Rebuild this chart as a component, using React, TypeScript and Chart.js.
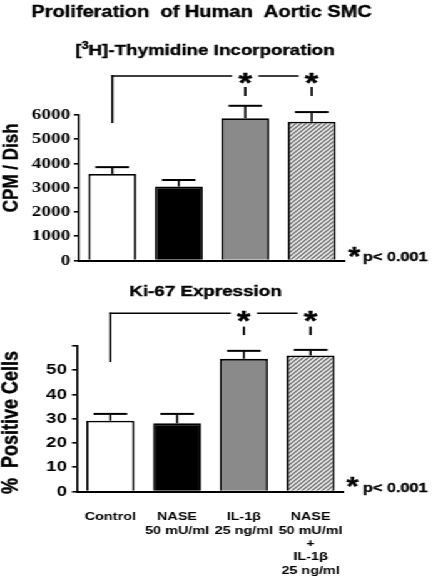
import React, { useEffect, useRef } from "react";
import { Chart, registerables } from "chart.js";

Chart.register(...registerables);

// ---------------- data ----------------
const categories: string[][] = [
  ["Control"],
  ["NASE", "50 mU/ml"],
  ["IL-1β", "25 ng/ml"],
  ["NASE", "50 mU/ml", "+", "IL-1β", "25 ng/ml"],
];
const thymidineMeans = [3570, 3050, 5870, 5720];
const thymidineErrors = [280, 270, 510, 400];
const thymidineTicks = [0, 1000, 2000, 3000, 4000, 5000, 6000];
const thymidineBracket = { level: 7610, drop: 5670, star: 7525, dashTop: 7155, dashBottom: 6785 };

const ki67Means = [29.2, 28.1, 54.7, 56.1];
const ki67Errors = [2.8, 3.9, 3.3, 2.3];
const ki67Ticks = [0, 10, 20, 30, 40, 50, 60];
const ki67Bracket = { level: 73.5, drop: 53.4, star: 72.1, dashTop: 68.0, dashBottom: 64.5 };

const mainTitle = "Proliferation  of Human  Aortic SMC";
const thymidineTitle = ["[", "3", "H]-Thymidine Incorporation"];
const ki67Title = "Ki-67 Expression";
const thymidineAxisTitle = "CPM / Dish";
const ki67AxisTitle = "%  Positive Cells";
const pValueNote = "p< 0.001";

// ---------------- layout helpers ----------------
const W = 346;
const S = 433 / W; // the original figure is stretched horizontally
const SANS = '"Liberation Sans", Arial, Helvetica, sans-serif';
const SERIF = '"Liberation Serif", "Times New Roman", serif';

function drawCentered(
  ctx: CanvasRenderingContext2D,
  text: string,
  xc: number,
  yc: number,
  font: string,
  rotate = 0
) {
  ctx.save();
  ctx.font = font;
  ctx.textAlign = "left";
  ctx.textBaseline = "alphabetic";
  const m = ctx.measureText(text);
  const w = m.actualBoundingBoxRight + m.actualBoundingBoxLeft;
  const dy = (m.actualBoundingBoxAscent - m.actualBoundingBoxDescent) / 2;
  ctx.translate(xc, yc);
  if (rotate) ctx.rotate(rotate);
  ctx.fillStyle = "#000";
  ctx.strokeStyle = "#000";
  ctx.lineWidth = 0.35;
  ctx.fillText(text, -w / 2 + m.actualBoundingBoxLeft, dy);
  ctx.strokeText(text, -w / 2 + m.actualBoundingBoxLeft, dy);
  ctx.restore();
}

function makeHatch(): CanvasPattern | string {
  const c = document.createElement("canvas");
  c.width = 4;
  c.height = 4;
  const g = c.getContext("2d");
  if (!g) return "#c8c8c8";
  g.fillStyle = "#f4f4f4";
  g.fillRect(0, 0, 4, 4);
  g.strokeStyle = "#6a6a6a";
  g.lineWidth = 1.3;
  g.beginPath();
  g.moveTo(0, 4);
  g.lineTo(4, 0);
  g.moveTo(-1, 1);
  g.lineTo(1, -1);
  g.moveTo(3, 5);
  g.lineTo(5, 3);
  g.stroke();
  return g.createPattern(c, "repeat") || "#c8c8c8";
}

type Bracket = { level: number; drop: number; star: number; dashTop: number; dashBottom: number };

function annotationPlugin(
  id: string,
  means: number[],
  errors: number[],
  bracket: Bracket,
  noteStar: { x: number; y: number; tx: number; ty: number },
  drawTitles: (ctx: CanvasRenderingContext2D) => void
) {
  return {
    id,
    afterDraw(chart: any) {
      const ctx: CanvasRenderingContext2D = chart.ctx;
      const ys = chart.scales.y;
      const bars = chart.getDatasetMeta(0).data;
      ctx.save();
      ctx.strokeStyle = "#000";
      ctx.lineCap = "butt";
      // error bars (upper only)
      bars.forEach((bar: any, i: number) => {
        const x = bar.x;
        const y0 = ys.getPixelForValue(means[i]);
        const y1 = ys.getPixelForValue(means[i] + errors[i]);
        const half = bar.width * 0.35;
        ctx.lineWidth = 1.6;
        ctx.beginPath();
        ctx.moveTo(x, y0);
        ctx.lineTo(x, y1);
        ctx.stroke();
        ctx.lineWidth = 2;
        ctx.beginPath();
        ctx.moveTo(x - half, y1);
        ctx.lineTo(x + half, y1);
        ctx.stroke();
      });
      // significance bracket
      const xc = bars[0].x;
      const x2 = bars[2].x;
      const x3 = bars[3].x;
      const gap = 10.5;
      const yl = ys.getPixelForValue(bracket.level);
      const yd = ys.getPixelForValue(bracket.drop);
      ctx.lineWidth = 1.6;
      ctx.beginPath();
      ctx.moveTo(xc, yd);
      ctx.lineTo(xc, yl - 0.8);
      ctx.stroke();
      ctx.lineWidth = 1.6;
      ctx.beginPath();
      ctx.moveTo(xc - 0.8, yl);
      ctx.lineTo(x2 - gap, yl);
      ctx.moveTo(x2 + gap, yl);
      ctx.lineTo(x3 - gap, yl);
      ctx.stroke();
      const ys1 = ys.getPixelForValue(bracket.star);
      const dt = ys.getPixelForValue(bracket.dashTop);
      const db = ys.getPixelForValue(bracket.dashBottom);
      [x2, x3].forEach((x) => {
        drawCentered(ctx, "*", x, ys1, `bold 28px ${SANS}`);
        ctx.lineWidth = 1.8;
        ctx.beginPath();
        ctx.moveTo(x, dt);
        ctx.lineTo(x, db);
        ctx.stroke();
      });
      // p-value note
      drawCentered(ctx, "*", noteStar.x, noteStar.y, `bold 25px ${SANS}`);
      ctx.font = `bold 13px ${SANS}`;
      ctx.fillStyle = "#000";
      ctx.strokeStyle = "#000";
      ctx.lineWidth = 0.3;
      ctx.textAlign = "left";
      ctx.textBaseline = "alphabetic";
      ctx.fillText(pValueNote, noteStar.tx, noteStar.ty);
      ctx.strokeText(pValueNote, noteStar.tx, noteStar.ty);
      drawTitles(ctx);
      ctx.restore();
    },
  };
}

export default function App() {
  const topRef = useRef<HTMLCanvasElement>(null);
  const botRef = useRef<HTMLCanvasElement>(null);

  useEffect(() => {
    if (!topRef.current || !botRef.current) return;
    const hatch = makeHatch();
    const fills: any[] = ["#ffffff", "#000000", "#8a8a8a", hatch];

    const topPlugin = annotationPlugin(
      "thymidineNotes",
      thymidineMeans,
      thymidineErrors,
      thymidineBracket,
      { x: 354.5 / S, y: 251.5, tx: 363 / S, ty: 261 },
      (ctx) => {
        drawCentered(ctx, mainTitle, 202.5 / S, 11, `bold 16px ${SANS}`);
        // subtitle with superscript
        const big = `bold 15px ${SANS}`;
        const small = `bold 10px ${SANS}`;
        ctx.font = big;
        const w0 = ctx.measureText(thymidineTitle[0]).width;
        const w2 = ctx.measureText(thymidineTitle[2]).width;
        ctx.font = small;
        const w1 = ctx.measureText(thymidineTitle[1]).width;
        const total = w0 + w1 + w2;
        let x = 205 / S - total / 2;
        const base = 54.5;
        ctx.fillStyle = "#000";
        ctx.strokeStyle = "#000";
        ctx.lineWidth = 0.35;
        ctx.textAlign = "left";
        ctx.textBaseline = "alphabetic";
        ctx.font = big;
        ctx.fillText(thymidineTitle[0], x, base);
        ctx.strokeText(thymidineTitle[0], x, base);
        x += w0;
        ctx.font = small;
        ctx.fillText(thymidineTitle[1], x, base - 6);
        ctx.strokeText(thymidineTitle[1], x, base - 6);
        x += w1;
        ctx.font = big;
        ctx.fillText(thymidineTitle[2], x, base);
        ctx.strokeText(thymidineTitle[2], x, base);
        drawCentered(ctx, thymidineAxisTitle, 10.5 / S, 168, `bold 17px ${SANS}`, -Math.PI / 2);
      }
    );

    const botPlugin = annotationPlugin(
      "ki67Notes",
      ki67Means,
      ki67Errors,
      ki67Bracket,
      { x: 352.5 / S, y: 201.7, tx: 363 / S, ty: 211.5 },
      (ctx) => {
        drawCentered(ctx, ki67Title, 206 / S, 11.5, `bold 15px ${SANS}`);
        drawCentered(ctx, ki67AxisTitle, 9.5 / S, 142.5, `bold 18px ${SANS}`, -Math.PI / 2);
      }
    );

    const c1 = new Chart(topRef.current, {
      type: "bar",
      data: {
        labels: categories,
        datasets: [
          {
            data: thymidineMeans,
            backgroundColor: fills,
            borderColor: "#000",
            borderWidth: 1.8,
            barPercentage: 0.72,
            categoryPercentage: 1,
          },
        ],
      },
      options: {
        responsive: true,
        maintainAspectRatio: false,
        animation: false,
        events: [],
        layout: { padding: { top: 115, right: W - 345 / S, bottom: 0, left: 0 } },
        plugins: { legend: { display: false }, tooltip: { enabled: false } },
        scales: {
          x: {
            grid: { display: false, drawTicks: false },
            border: { display: true, color: "#000", width: 2 },
            ticks: { display: false },
            afterFit: (s: any) => {
              s.height = 280 - 260.5;
            },
          },
          y: {
            min: 0,
            max: 6000,
            afterBuildTicks: (s: any) => {
              s.ticks = thymidineTicks.map((v) => ({ value: v }));
            },
            grid: { drawOnChartArea: false, drawTicks: true, tickLength: 4, color: "#000", lineWidth: 1.6 },
            border: { display: true, color: "#000", width: 1.6 },
            ticks: {
              color: "#000",
              padding: 3,
              font: { family: SERIF, weight: "bold", size: 15.5 },
              callback: (v: any) => String(v),
            },
            afterFit: (s: any) => {
              s.width = 79 / S;
            },
          },
        },
      } as any,
      plugins: [topPlugin],
    });

    const c2 = new Chart(botRef.current, {
      type: "bar",
      data: {
        labels: categories,
        datasets: [
          {
            data: ki67Means,
            backgroundColor: fills,
            borderColor: "#000",
            borderWidth: 1.8,
            barPercentage: 0.72,
            categoryPercentage: 1,
          },
        ],
      },
      options: {
        responsive: true,
        maintainAspectRatio: false,
        animation: false,
        events: [],
        layout: { padding: { top: 66, right: W - 344 / S, bottom: 0, left: 0 } },
        plugins: { legend: { display: false }, tooltip: { enabled: false } },
        scales: {
          x: {
            grid: { display: false, drawTicks: false },
            border: { display: true, color: "#000", width: 2 },
            ticks: {
              color: "#000",
              padding: 19,
              maxRotation: 0,
              autoSkip: false,
              font: { family: SANS, weight: "bold", size: 11.5, lineHeight: 1.16 },
            },
            afterFit: (s: any) => {
              s.height = 299 - 211.5;
            },
          },
          y: {
            min: 0,
            max: 60,
            afterBuildTicks: (s: any) => {
              s.ticks = ki67Ticks.map((v) => ({ value: v }));
            },
            grid: { drawOnChartArea: false, drawTicks: true, tickLength: 4, color: "#000", lineWidth: 1.6 },
            border: { display: true, color: "#000", width: 1.6 },
            ticks: {
              color: "#000",
              padding: 4,
              font: { family: SANS, weight: "bold", size: 15 },
              callback: (v: any) => (Number(v) === 60 ? "" : String(v)),
            },
            afterFit: (s: any) => {
              s.width = 77 / S;
            },
          },
        },
      } as any,
      plugins: [botPlugin],
    });

    return () => {
      c1.destroy();
      c2.destroy();
    };
  }, []);

  return (
    <div
      style={{
        position: "absolute",
        left: 0,
        top: 0,
        width: W,
        height: 579,
        background: "#fff",
        transform: `scaleX(${S})`,
        transformOrigin: "0 0",
      }}
    >
      <div style={{ position: "relative", width: W, height: 280 }}>
        <canvas ref={topRef} />
      </div>
      <div style={{ position: "relative", width: W, height: 299 }}>
        <canvas ref={botRef} />
      </div>
    </div>
  );
}
